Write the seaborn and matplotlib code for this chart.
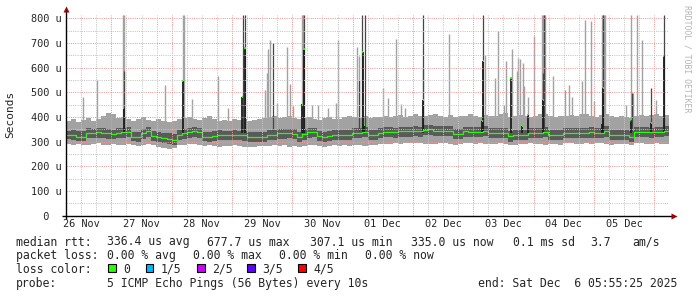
import numpy as np
import pandas as pd
import matplotlib
matplotlib.use("Agg")
import matplotlib.pyplot as plt
import seaborn as sns
from matplotlib.patches import Rectangle

# ------------------------------------------------------------------ data
start_time = pd.Timestamp("2025-11-26 05:55:25")
end_time = pd.Timestamp("2025-12-06 05:55:25")
step_hours = 2

# median rtt (microseconds), one value per 2 hour step
median_rtt = [
    327, 327, 320, 320, 336, 336, 338, 336, 333, 330, 336, 338,
    340, 320, 320, 333, 343, 322, 320, 315, 312, 307, 327, 335,
    338, 343, 338, 320, 320, 322, 327, 327, 325, 327, 327, 325,
    320, 320, 318, 320, 327, 327, 334, 334, 334, 330, 320, 330,
    338, 338, 322, 320, 322, 327, 327, 327, 327, 336, 336, 340,
    327, 327, 336, 340, 340, 338, 342, 342, 342, 342, 342, 348,
    350, 345, 345, 345, 343, 331, 331, 342, 340, 340, 340, 345,
    336, 336, 336, 336, 322, 327, 327, 327, 336, 336, 336, 340,
    327, 327, 327, 336, 336, 336, 336, 336, 338, 336, 336, 345,
    327, 327, 327, 327, 320, 340, 340, 340, 338, 340, 340, 345,
]
# fastest ping
ping_min = [
    290, 286, 292, 288, 285, 290, 293, 288, 286, 290, 285, 288,
    290, 286, 284, 288, 290, 285, 280, 276, 270, 275, 285, 288,
    290, 292, 288, 284, 286, 282, 280, 284, 282, 286, 282, 280,
    278, 280, 284, 281, 283, 285, 282, 286, 280, 284, 278, 282,
    285, 288, 282, 280, 283, 285, 282, 286, 284, 288, 285, 283,
    286, 288, 290, 292, 290, 294, 292, 295, 293, 296, 294, 290,
    292, 290, 294, 295, 292, 288, 290, 293, 295, 292, 294, 290,
    292, 290, 293, 290, 285, 288, 292, 290, 294, 292, 290, 288,
    290, 292, 288, 293, 295, 292, 290, 294, 292, 295, 293, 290,
    288, 292, 290, 292, 286, 293, 295, 292, 290, 294, 292, 290,
]
# second ping
ping_low = [
    310, 308, 302, 304, 315, 314, 316, 314, 312, 310, 314, 316,
    318, 302, 300, 312, 320, 303, 300, 296, 292, 288, 306, 312,
    316, 320, 316, 302, 300, 303, 308, 306, 305, 307, 306, 304,
    300, 300, 298, 300, 306, 307, 312, 312, 313, 310, 300, 308,
    316, 317, 302, 300, 302, 306, 305, 307, 306, 314, 315, 318,
    308, 306, 315, 318, 318, 316, 320, 320, 319, 321, 320, 325,
    328, 322, 322, 324, 322, 310, 310, 320, 318, 318, 318, 322,
    315, 314, 316, 315, 300, 306, 305, 306, 314, 315, 314, 318,
    306, 305, 306, 314, 315, 314, 316, 314, 316, 314, 315, 320,
    306, 305, 306, 305, 298, 318, 319, 318, 316, 318, 319, 322,
]
# fourth ping
ping_high = [
    345, 348, 342, 345, 355, 352, 356, 354, 350, 348, 354, 356,
    358, 340, 340, 350, 360, 342, 340, 336, 333, 330, 346, 352,
    356, 360, 355, 340, 340, 342, 346, 345, 344, 346, 345, 344,
    340, 340, 338, 340, 346, 348, 352, 353, 352, 350, 340, 350,
    356, 355, 342, 340, 342, 346, 346, 347, 346, 354, 355, 358,
    348, 347, 355, 358, 360, 356, 360, 361, 360, 362, 360, 366,
    368, 364, 363, 364, 362, 352, 350, 360, 360, 358, 360, 364,
    355, 356, 355, 356, 345, 348, 347, 346, 355, 356, 355, 360,
    348, 347, 346, 356, 355, 356, 355, 356, 358, 355, 356, 362,
    348, 347, 346, 348, 342, 358, 360, 358, 356, 360, 358, 362,
]
# slowest ping
ping_max = [
    385, 392, 380, 388, 395, 383, 390, 405, 418, 410, 395, 400,
    392, 385, 390, 398, 388, 382, 392, 385, 378, 383, 390, 395,
    400, 392, 388, 395, 402, 390, 385, 388, 382, 390, 386, 392,
    385, 388, 392, 396, 400, 405, 395, 398, 402, 395, 390, 395,
    398, 392, 388, 395, 400, 390, 393, 398, 405, 400, 395, 402,
    395, 398, 400, 404, 398, 402, 408, 400, 405, 410, 402, 405,
    408, 412, 405, 400, 408, 398, 402, 405, 410, 404, 400, 408,
    402, 405, 410, 415, 400, 405, 408, 402, 398, 405, 410, 412,
    402, 400, 405, 403, 408, 402, 410, 412, 405, 400, 408, 410,
    405, 398, 402, 400, 395, 405, 408, 402, 406, 410, 404, 408,
]

# short outliers of the slowest ping (hour since start, top value)
outlier_hours = [
    6.9, 12.5, 22.7, 23.1, 39.5, 46.4, 46.8, 50.1, 60.5, 64.6,
    79.2, 80.1, 80.5, 81.3, 84.1, 88.1, 89.2, 90.2, 93.8, 94.2,
    94.5, 97.8, 100.2, 104.3, 107.5, 108.4, 115.9, 116.6, 126.0, 128.2,
    131.5, 133.4, 134.8, 141.9, 152.6, 166.9, 170.6, 172.0, 174.3, 175.3,
    177.4, 179.4, 179.9, 180.7, 181.8, 182.2, 184.0, 186.1, 189.4, 189.8,
    190.2, 190.6, 193.9, 198.7, 200.3, 201.3, 205.4, 206.7, 209.0, 210.0,
    213.3, 213.7, 214.1, 214.5, 222.9, 224.7, 225.8, 227.4, 229.1, 234.8,
]
outlier_tops = [
    482, 550, 815, 815, 530, 815, 815, 474, 566, 436,
    509, 577, 674, 712, 458, 685, 534, 445, 815, 815,
    815, 450, 448, 436, 456, 712, 685, 646, 517, 477,
    714, 451, 436, 598, 738, 652, 558, 748, 450, 625,
    676, 588, 639, 634, 617, 524, 482, 727, 815, 815,
    815, 815, 565, 511, 528, 480, 545, 794, 788, 463,
    815, 815, 815, 815, 450, 815, 497, 815, 712, 470,
]
# upper middle pings during events
event_hours = [
    23.0, 70.6, 71.2, 82.5, 94.7, 116.6, 117.7, 119.0, 142.2, 166.1,
    190.0, 190.4, 213.9, 225.3, 233.0, 237.9,
]
event_tops = [
    585, 815, 815, 698, 815, 550, 815, 815, 815, 815,
    578, 815, 815, 496, 517, 815,
]
# median during events
event_median_hours = [
    22.9, 46.4, 70.2, 71.2, 94.1, 94.7, 118.1, 118.7, 142.2, 165.7,
    166.1, 177.1, 181.6, 183.7, 190.0, 213.2, 213.9, 224.7, 233.0, 237.9,
]
event_median_values = [
    436, 547, 482, 678, 452, 677, 665, 369, 468, 383,
    625, 558, 362, 408, 470, 374, 516, 389, 375, 648,
]

day_labels = ["26 Nov", "27 Nov", "28 Nov", "29 Nov", "30 Nov",
              "01 Dec", "02 Dec", "03 Dec", "04 Dec", "05 Dec"]
y_ticks = [0, 100, 200, 300, 400, 500, 600, 700, 800]
y_tick_labels = ["  0", "100 u", "200 u", "300 u", "400 u",
                 "500 u", "600 u", "700 u", "800 u"]

rtt_stats = ["336.4 us avg", "677.7 us max", "307.1 us min",
             "335.0 us now", "0.1 ms sd", "3.7", "am/s"]
loss_stats = ["0.00 % avg", "0.00 % max", "0.00 % min", "0.00 % now"]
loss_labels = ["0", "1/5", "2/5", "3/5", "4/5"]
loss_colors = ["#26ff00", "#00b8ff", "#d000ff", "#6000ff", "#ff0000"]
probe_text = "5 ICMP Echo Pings (56 Bytes) every 10s"
end_text = "end: Sat Dec  6 05:55:25 2025"

# ------------------------------------------------------------------ frame
n = len(median_rtt)
hours = np.arange(n + 1) * step_hours
def ext(v):
    return list(v) + [v[-1]]
df = pd.DataFrame({
    "hour": hours,
    "median": ext(median_rtt),
    "pmin": ext(ping_min),
    "plow": ext(ping_low),
    "phigh": ext(ping_high),
    "pmax": ext(ping_max),
})

W, H = 697, 297
sns.set_theme(style="white")
plt.rcParams["font.family"] = ["DejaVu Sans Mono", "DejaVu Sans"]
fig = plt.figure(figsize=(W / 100, H / 100), dpi=100)
fig.patch.set_facecolor("white")

ax_left, ax_right, ax_top, ax_bottom = 66, 669, 15, 215.7
ax = fig.add_axes([ax_left / W, 1 - ax_bottom / H,
                   (ax_right - ax_left) / W, (ax_bottom - ax_top) / H])
ax.set_facecolor("white")
total_hours = (end_time - start_time) / pd.Timedelta(hours=1)
ax.set_xlim(0, total_hours)
ax.set_ylim(0, 813)

LIGHT = "#a2a2a2"
DARK = "#5a5a5a"
EVENT = "#464646"
BLACK = "#1c1c1c"
GREEN = "#26ff00"
px_h = total_hours / (ax_right - ax_left)   # hours per pixel

# light smoke
ax.fill_between(df["hour"], df["pmin"], df["pmax"], step="post",
                color=LIGHT, linewidth=0, zorder=2)
ax.vlines(outlier_hours, 360, outlier_tops, color=LIGHT,
          linewidth=1.0, zorder=2.1)
# dark smoke
ax.fill_between(df["hour"], df["plow"], df["phigh"], step="post",
                color=DARK, linewidth=0, zorder=3)
ax.vlines(event_hours, 345, event_tops, color=EVENT, linewidth=0.9, zorder=3.1)
ax.vlines(event_median_hours, 335, event_median_values, color=BLACK,
          linewidth=1.3, zorder=3.2)
# median line
sns.lineplot(data=df, x="hour", y="median", ax=ax, color=GREEN,
             linewidth=0.9, drawstyle="steps-post", zorder=4, legend=False)
ax.hlines(event_median_values,
          np.array(event_median_hours) - 0.5 * px_h,
          np.array(event_median_hours) + 0.7 * px_h,
          color=GREEN, linewidth=1.4, zorder=4.1)

# grid
hour = pd.Timedelta(hours=1)
minor_times = pd.date_range("2025-11-26 06:00", end_time, freq="6h")
major_times = pd.date_range("2025-11-27 00:00", end_time, freq="D")
noon_times = pd.date_range("2025-11-26 12:00", periods=len(day_labels), freq="D")
minor_h = [(t - start_time) / hour for t in minor_times]
major_h = [(t - start_time) / hour for t in major_times]
noon_h = [(t - start_time) / hour for t in noon_times]
dot = (0, (1, 1.2))
for h in minor_h:
    if h not in major_h:
        ax.axvline(h, color="#c4c4c4", lw=0.72, ls=dot, zorder=5)
for h in major_h:
    ax.axvline(h, color="#e89a9a", lw=0.72, ls=dot, zorder=5)
for v in range(50, 801, 100):
    ax.axhline(v, color="#c4c4c4", lw=0.72, ls=dot, zorder=5)
for v in y_ticks[1:]:
    ax.axhline(v, color="#e89a9a", lw=0.72, ls=dot, zorder=5)

# axes / ticks
for s in ax.spines.values():
    s.set_visible(False)
ax.set_xticks(noon_h)
ax.set_xticklabels(day_labels, fontsize=7.4)
ax.set_yticks(y_ticks)
ax.set_yticklabels(y_tick_labels, fontsize=7.4)
for lab in ax.get_yticklabels():
    lab.set_horizontalalignment("left")
ax.tick_params(axis="y", length=0, pad=25.4)
ax.tick_params(axis="x", length=0, pad=2.5)
ax.set_xlabel("")
ax.set_ylabel("")

# axis lines with arrows
fx = lambda x: (x - ax_left) / (ax_right - ax_left)
fy = lambda y: (ax_bottom - y) / (ax_bottom - ax_top)
ax.plot([fx(62), fx(672)], [0, 0], transform=ax.transAxes, color="black",
        lw=1.0, clip_on=False, zorder=6, solid_capstyle="butt")
ax.plot([0, 0], [fy(219), fy(10)], transform=ax.transAxes, color="black",
        lw=1.0, clip_on=False, zorder=6, solid_capstyle="butt")
ax.plot([fx(673.5)], [0], transform=ax.transAxes, marker=">", ms=4.5,
        color="#a00000", clip_on=False, zorder=7, mec="none")
ax.plot([0], [fy(9)], transform=ax.transAxes, marker="^", ms=4.5,
        color="#a00000", clip_on=False, zorder=7, mec="none")

# texts
def ftext(x, y, s, **kw):
    fig.text(x / W, 1 - y / H, s, **kw)

ftext(10, 114, "Seconds", rotation=90, ha="center", va="center", fontsize=8)
ftext(686.5, 5, "RRDTOOL / TOBI OETIKER", rotation=270, ha="center",
      va="top", fontsize=5.9, color="#b4b4b4")

FS = 8.3
base = [245.5, 259.3, 273.0, 287.0]
ftext(16, base[0], "median rtt:", fontsize=FS, va="baseline")
for x, s in zip([106.7, 207, 310, 411, 513, 590, 632], rtt_stats):
    ftext(x, base[0], s, fontsize=FS, va="baseline")
ftext(16, base[1], "packet loss:", fontsize=FS, va="baseline")
for x, s in zip([107, 193.3, 279.3, 365], loss_stats):
    ftext(x, base[1], s, fontsize=FS, va="baseline")
ftext(16, base[2], "loss color:", fontsize=FS, va="baseline")
for x, lab, col in zip([108.3, 145.7, 197.3, 247.3, 298.3], loss_labels, loss_colors):
    fig.patches.append(Rectangle((x / W, 1 - 272 / H), 7.5 / W, 7.7 / H,
                                 transform=fig.transFigure, facecolor=col,
                                 edgecolor="black", linewidth=0.8))
    ftext(x + 15, base[2], lab, fontsize=FS, va="baseline")
ftext(16, base[3], "probe:", fontsize=FS, va="baseline")
ftext(107.3, base[3], probe_text, fontsize=FS, va="baseline")
ftext(478.4, base[3], end_text, fontsize=FS, va="baseline")

fig.savefig("out.png", dpi=100, facecolor="white")
